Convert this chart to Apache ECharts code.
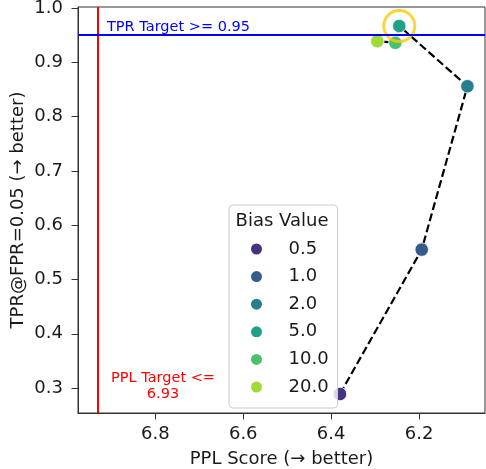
<!DOCTYPE html>
<html>
<head>
<meta charset="utf-8">
<script src="https://cdn.jsdelivr.net/npm/echarts@6/dist/echarts.min.js"></script>
<style>
  html, body { margin: 0; padding: 0; background: #fff; }
  #chart { width: 486px; height: 469px; }
</style>
</head>
<body>
<div id="chart"></div>
<script>
// bias values (legend order) and the measured scores
const biasValues = ['0.5', '1.0', '2.0', '5.0', '10.0', '20.0'];
const pplScores = [6.380, 6.194, 6.090, 6.245, 6.254, 6.295];
const tprScores = [0.289, 0.555, 0.856, 0.967, 0.936, 0.939];
const biasColors = ['#46327e', '#365c8d', '#277f8e', '#1fa187', '#4ac16d', '#a0da39'];

const xTicks = [6.2, 6.4, 6.6, 6.8];
const yTicks = [0.3, 0.4, 0.5, 0.6, 0.7, 0.8, 0.9, 1.0];

const tprTarget = 0.95;
const pplTarget = 6.934;
const bestIdx = 3; // highlighted point

const FONT = 'DejaVu Sans';
const chart = echarts.init(document.getElementById('chart'));

const pointSeries = biasValues.map((b, i) => ({
  name: b,
  type: 'scatter',
  data: [[pplScores[i], tprScores[i]]],
  symbolSize: 13.5,
  itemStyle: { color: biasColors[i], borderColor: '#fff', borderWidth: 0.8, opacity: 1 },
  z: 3
}));

const option = {
  animation: false,
  grid: {
    left: 78, right: 1, top: 7, bottom: 56,
    outerBoundsMode: 'none',
    containLabel: false,
    show: true, borderColor: '#333', borderWidth: 1
  },
  xAxis: {
    type: 'value',
    inverse: true,
    min: 6.05, max: 6.976,
    name: 'PPL Score (→ better)',
    nameLocation: 'middle',
    nameGap: 37,
    nameMoveOverlap: false,
    nameTextStyle: { fontSize: 18, color: '#1a1a1a', fontFamily: FONT },
    axisLine: { lineStyle: { color: '#333', width: 1 } },
    axisTick: { customValues: xTicks, length: 6.5, lineStyle: { color: '#333' } },
    axisLabel: {
      customValues: xTicks, margin: 12,
      fontSize: 18, color: '#1a1a1a', fontFamily: FONT,
      formatter: v => v.toFixed(1)
    },
    splitLine: { show: false }
  },
  yAxis: {
    type: 'value',
    min: 0.254, max: 1.002,
    name: 'TPR@FPR=0.05 (→ better)',
    nameLocation: 'middle',
    nameGap: 51,
    nameMoveOverlap: false,
    nameTextStyle: { fontSize: 18, color: '#1a1a1a', fontFamily: FONT },
    axisLine: { show: true, lineStyle: { color: '#333', width: 1 } },
    axisTick: { show: true, customValues: yTicks, length: 6.5, lineStyle: { color: '#333' } },
    axisLabel: {
      customValues: yTicks, margin: 15,
      fontSize: 18, color: '#1a1a1a', fontFamily: FONT,
      formatter: v => v.toFixed(1)
    },
    splitLine: { show: false }
  },
  legend: {
    data: biasValues,
    orient: 'vertical',
    left: 229, top: 205,
    padding: [35, 9, 12, 20],
    itemWidth: 54, itemHeight: 13, itemGap: 9.6,
    icon: 'circle',
    backgroundColor: 'rgba(255,255,255,0.8)',
    borderColor: '#cccccc', borderWidth: 1, borderRadius: 4,
    textStyle: { fontSize: 18, color: '#1a1a1a', fontFamily: FONT },
    selectedMode: false
  },
  graphic: [
    {
      type: 'text', x: 282, y: 221, z: 100,
      style: { text: 'Bias Value', fill: '#1a1a1a', fontSize: 18, fontFamily: FONT, align: 'center', verticalAlign: 'middle' }
    },
    {
      type: 'text', x: 107, y: 27.5, z: 100,
      style: { text: 'TPR Target >= 0.95', fill: '#0000ff', fontSize: 14.5, fontFamily: FONT, align: 'left', verticalAlign: 'middle' }
    },
    {
      type: 'text', x: 163, y: 386, z: 100,
      style: { text: 'PPL Target <=\n6.93', fill: '#ff0000', fontSize: 14.5, lineHeight: 16, fontFamily: FONT, align: 'center', verticalAlign: 'middle' }
    }
  ],
  series: [
    {
      name: 'path',
      type: 'line',
      data: pplScores.map((x, i) => [x, tprScores[i]]),
      symbol: 'none',
      lineStyle: { color: '#000', width: 2.2, type: [8, 3.5] },
      z: 2,
      markLine: {
        silent: true,
        symbol: 'none',
        label: { show: false },
        data: [
          { xAxis: pplTarget, lineStyle: { color: '#ff0000', width: 2, type: 'solid' } },
          { yAxis: tprTarget, lineStyle: { color: '#0000ff', width: 2, type: 'solid' } }
        ]
      }
    },
    ...pointSeries,
    {
      name: 'best',
      type: 'scatter',
      data: [[pplScores[bestIdx], tprScores[bestIdx]]],
      symbolSize: 31,
      itemStyle: { color: 'rgba(0,0,0,0)', borderColor: '#fccb06', borderWidth: 3 },
      z: 4
    }
  ]
};

chart.setOption(option);
</script>
</body>
</html>
